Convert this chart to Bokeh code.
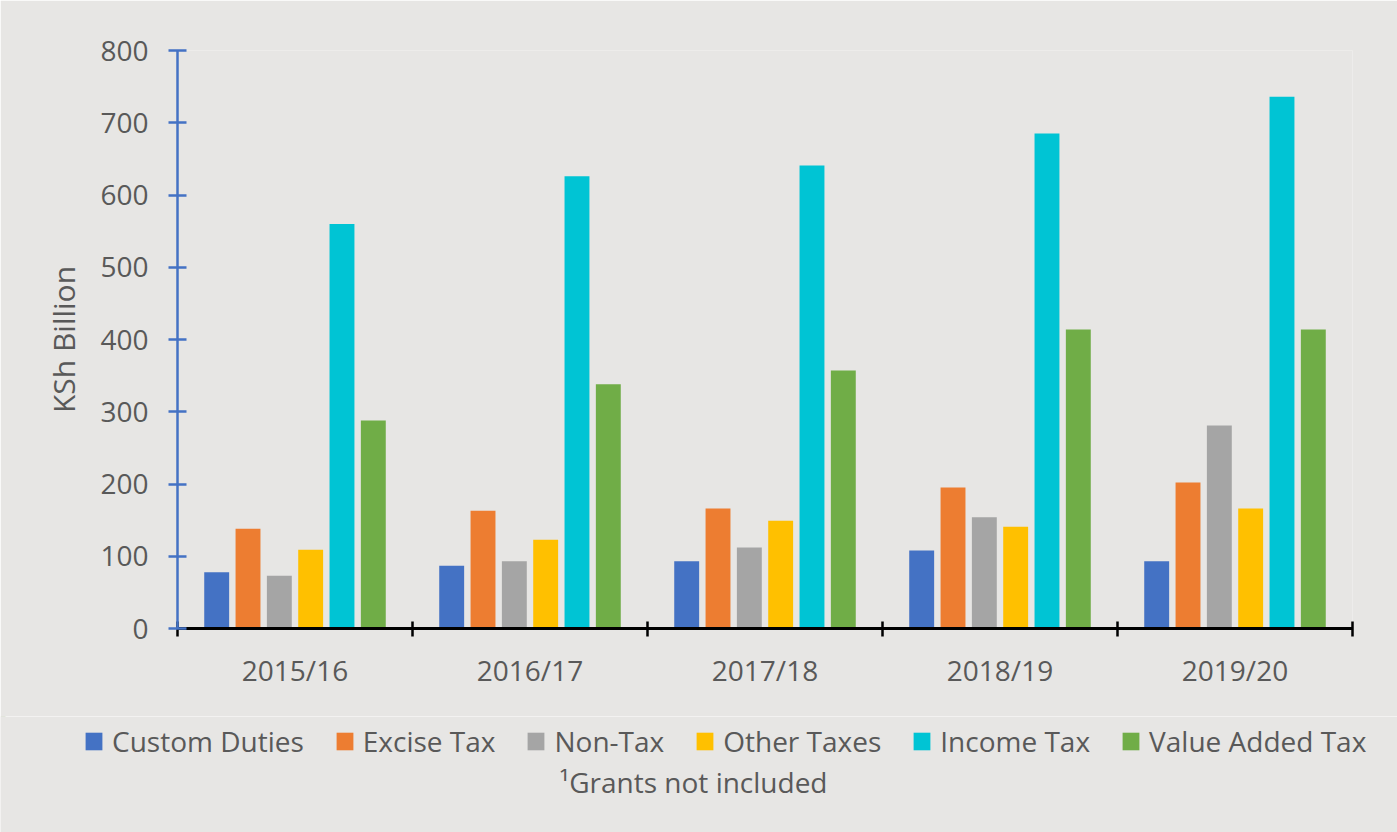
from bokeh.plotting import figure
from bokeh.layouts import column
from bokeh.models import FixedTicker, Legend, LegendItem, Label, Range1d, ColumnDataSource
from bokeh.embed import file_html
from bokeh.resources import INLINE

years = ["2015/16", "2016/17", "2017/18", "2018/19", "2019/20"]
series_names = ["Custom Duties", "Excise Tax", "Non-Tax", "Other Taxes", "Income Tax", "Value Added Tax"]
custom_duties = [78, 87, 93, 108, 93]
excise_tax = [138, 163, 166, 195, 202]
non_tax = [73, 93, 112, 154, 281]
other_taxes = [109, 123, 149, 141, 166]
income_tax = [560, 626, 641, 685, 736]
value_added_tax = [288, 338, 357, 414, 414]
colors = ["#4472C4", "#ED7D31", "#A5A5A5", "#FFC000", "#00C4D4", "#70AD47"]
y_ticks = [0, 100, 200, 300, 400, 500, 600, 700, 800]
footnote = "\u00b9Grants not included"

all_series = [custom_duties, excise_tax, non_tax, other_taxes, income_tax, value_added_tax]

FONT = "Open Sans"
TXT = "#595959"
BG = "#e7e6e4"
W = 1397

p = figure(width=W, height=716, output_backend="svg", toolbar_location=None,
           x_range=Range1d(0, len(years)), y_range=Range1d(0, 800),
           min_border_left=177, min_border_right=45, min_border_top=50, min_border_bottom=88)
p.background_fill_color = BG
p.border_fill_color = BG
p.outline_line_color = None
p.xgrid.visible = False
p.ygrid.visible = False
p.frame_align = False

# bottom strip for legend and footnote (its own frame, not aligned to the chart)
q = figure(width=W, height=116, output_backend="svg", toolbar_location=None,
           x_range=Range1d(0, W), y_range=Range1d(-2000, -1884),
           x_axis_type=None, y_axis_type=None, min_border=0)
q.background_fill_color = BG
q.border_fill_color = BG
q.outline_line_color = None
q.xgrid.visible = False
q.ygrid.visible = False
q.frame_align = False

step = 0.1333
n = len(series_names)
items = []
for i, (name, vals, col) in enumerate(zip(series_names, all_series, colors)):
    off = (i - (n - 1) / 2) * step
    xs = [k + 0.5 + off for k in range(len(years))]
    src = ColumnDataSource(dict(x=xs, top=vals))
    p.vbar(x="x", top="top", width=0.106, source=src, fill_color=col, line_color=None)
    # same bars in the strip (outside its visible range) serve as legend keys
    r = q.vbar(x="x", top="top", width=0.106, source=src, fill_color=col, line_color=None)
    items.append(LegendItem(label=name, renderers=[r]))

# x axis
xa = p.xaxis[0]
xa.ticker = FixedTicker(ticks=[k + 0.5 for k in range(len(years))],
                        minor_ticks=list(range(len(years) + 1)))
xa.major_label_overrides = {k + 0.5: y for k, y in enumerate(years)}
xa.major_tick_line_color = None
xa.minor_tick_in = 7
xa.minor_tick_out = 8
xa.minor_tick_line_color = "black"
xa.minor_tick_line_width = 2.5
xa.axis_line_color = "black"
xa.axis_line_width = 3
xa.major_label_text_font = FONT
xa.major_label_text_font_size = "28px"
xa.major_label_text_color = TXT
xa.major_label_standoff = 14

# y axis
ya = p.yaxis[0]
ya.ticker = FixedTicker(ticks=y_ticks)
ya.minor_tick_line_color = None
ya.axis_line_color = "#4472C4"
ya.axis_line_width = 2.5
ya.major_tick_line_color = "#4472C4"
ya.major_tick_line_width = 2.5
ya.major_tick_in = 9
ya.major_tick_out = 9
ya.major_label_text_font = FONT
ya.major_label_text_font_size = "28px"
ya.major_label_text_color = TXT
ya.major_label_standoff = 20
ya.axis_label = "KSh Billion"
ya.axis_label_text_font = FONT
ya.axis_label_text_font_size = "30px"
ya.axis_label_text_font_style = "normal"
ya.axis_label_text_color = TXT
ya.axis_label_standoff = 13

legend = Legend(items=items, orientation="horizontal", location=(83, 72),
                background_fill_alpha=0, border_line_color=None,
                label_text_font=FONT, label_text_font_size="28px", label_text_color=TXT,
                glyph_width=21, glyph_height=22, label_standoff=8, spacing=30,
                margin=0, padding=0)
q.add_layout(legend, "center")

note = Label(x=693, y=51, x_units="screen", y_units="screen", text=footnote,
             text_align="center", text_baseline="middle", text_font=FONT,
             text_font_size="28px", text_color=TXT)
q.add_layout(note)

layout = column(p, q, spacing=0)
open("out.html", "w").write(file_html(layout, INLINE))
